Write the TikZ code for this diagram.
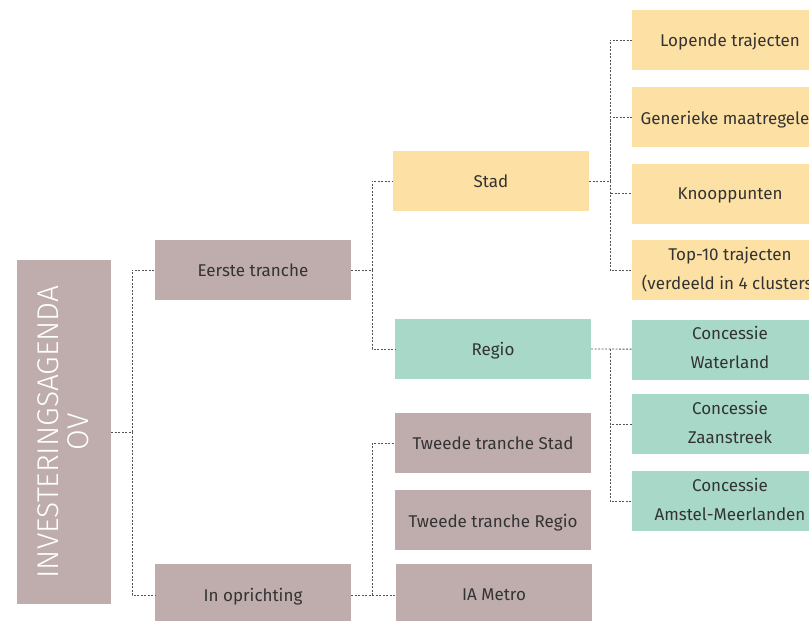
\documentclass[tikz,border=0pt]{standalone}
\usepackage{fontspec}
\setmainfont{Fira Sans}
\newfontfamily\titlefont{Fira Sans Light}
\usepackage{tikz}
\usetikzlibrary{positioning}
\definecolor{boxmauve}{HTML}{BFADAD}
\definecolor{boxyellow}{HTML}{FDE0A3}
\definecolor{boxgreen}{HTML}{A7D8C8}
\definecolor{textgray}{HTML}{333333}
\definecolor{linegray}{HTML}{555555}

\begin{document}
\begin{tikzpicture}[x=1pt, y=-1pt,
nodes = {
text=textgray,
align=center,
inner sep=0pt,
minimum width=196pt,
minimum height=60pt,
text depth=0pt,
font=\fontsize{17}{29}\selectfont
},
mauve/.style={fill=boxmauve},
yellow/.style={fill=boxyellow},
green/.style={fill=boxgreen},
twoline/.style={text depth=4pt},
link/.style={draw=linegray, line width=0.9pt, dash pattern=on 2pt off 1.5pt}]

\useasboundingbox (0,0) rectangle (809,621);
\clip (0,0) rectangle (809,621);

% root
\node[mauve, minimum width=94pt, minimum height=344pt, text=white] (root) at (64,432) {};
\node[rotate=90, text=white, minimum width=0pt, minimum height=0pt, twoline,
  font=\titlefont\fontsize{30}{30}\selectfont] (title) at ([xshift=1pt]root.center)
  {INVESTERINGSAGENDA\\OV};

% first level
\node[mauve] (eerste) at (253,270) {Eerste tranche};
\node[mauve, minimum height=62pt] (oprichting) at (253,595) {In oprichting};

% second level
\node[yellow] (stad) at (491,181) {Stad};
\node[green] (regio) at (493,349) {Regio};
\node[mauve] (tweedestad) at (493,443) {Tweede tranche Stad};
\node[mauve] (tweederegio) [below = 17pt of tweedestad] {Tweede tranche Regio};
\node[mauve, minimum height=62pt] (metro) at (494,595) {IA Metro};

% third level
\node[yellow] (lopende) at (730,40) {Lopende trajecten};
\node[yellow] (generiek) [below = 17pt of lopende] {Generieke maatregelen};
\node[yellow] (knoop) [below = 16pt of generiek] {Knooppunten};
\node[yellow, twoline] (topten) [below = 16pt of knoop] {Top-10 trajecten\\(verdeeld in 4 clusters)};
\node[green, twoline] (waterland) [below = 19pt of topten] {Concessie\\Waterland};
\node[green, twoline] (zaan) [below = 14pt of waterland] {Concessie\\Zaanstreek};
\node[green, twoline] (amstel) [below = 17pt of zaan] {Concessie\\Amstel-Meerlanden};

% junctions
\coordinate (j0) at (132,432);
\coordinate (j1) at (372,270);
\coordinate (j2) at (372,595);
\coordinate (j3) at (610,181);
\coordinate (j4) at (610,349);

% connections
\draw[link] (root) -- (j0) |- (eerste);
\draw[link] (j0) |- (oprichting);
\draw[link] (eerste) -- (j1) |- (stad);
\draw[link] (j1) |- (regio);
\draw[link] (oprichting) -- (j2) -- (metro);
\draw[link] (j2) |- (tweedestad);
\draw[link] (stad) -- (j3) |- (lopende);
\draw[link] (j3) |- (generiek);
\draw[link] (j3) |- (knoop);
\draw[link] (j3) |- (topten);
\draw[link] (regio) -- (j4) -- (waterland);
\draw[link] (j4) |- (zaan);
\draw[link] (j4) |- (amstel);

\end{tikzpicture}
\end{document}
